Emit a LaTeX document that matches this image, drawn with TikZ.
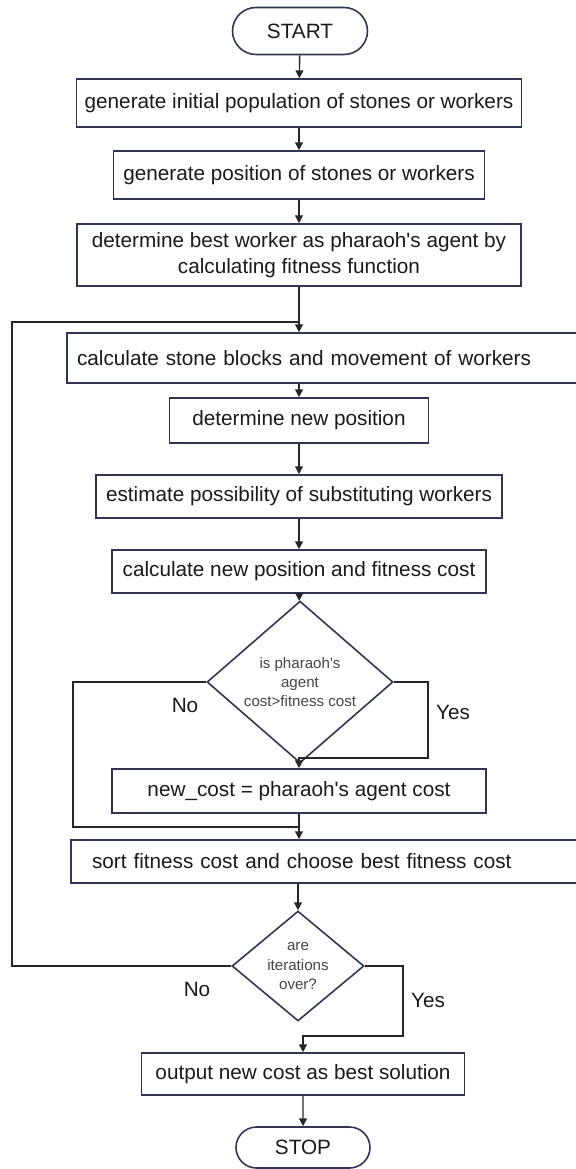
\documentclass[tikz,border=0pt]{standalone}
\usepackage{fontspec}
\setmainfont{Liberation Sans}
\usepackage{tikz}
\usetikzlibrary{arrows.meta, shapes.geometric, shapes.misc}
\usepackage{xcolor}
\definecolor{pharaohLine}{HTML}{2F3552}
\definecolor{pharaohText}{HTML}{1A1A1A}
\definecolor{pharaohSoft}{HTML}{4A4444}

\begin{document}
\begin{tikzpicture}[x=0.02cm, y=-0.02cm, font=\fontsize{11.8}{15}\selectfont, text=pharaohText,
    caja/.style={draw=pharaohLine, line width=0.9pt, rectangle, inner sep=0pt, align=center},
    terminal/.style={draw=pharaohLine, line width=0.9pt, rounded rectangle, inner sep=0pt},
    decision/.style={draw=pharaohLine, line width=0.9pt, diamond, inner sep=0pt, align=center,
      text=pharaohSoft, font=\fontsize{8.6}{11}\selectfont},
    flecha/.style={line width=0.8pt, draw=black!85, -{Triangle[width=4.5pt, length=4.5pt]}},
    linea/.style={line width=0.8pt, draw=black!85}]
        \useasboundingbox (0,0) rectangle (575,1169);
        % Inicio y pasos iniciales
        \node[terminal, minimum width=2.7cm, minimum height=0.94cm] (start) at (300,31) {START};
        \node[caja, minimum width=8.9cm, minimum height=0.96cm] (gen) at (299,103)
          {generate initial population of stones or workers};
        \node[caja, minimum width=7.42cm, minimum height=0.96cm] (pos) at (299,175)
          {generate position of stones or workers};
        \node[caja, minimum width=8.88cm, minimum height=1.24cm] (best) at (299,255)
          {determine best worker as pharaoh\textquotesingle s agent by\\calculating fitness function};
        % Bucle principal
        \node[caja, text width=9.86cm, inner xsep=0.2cm, align=left, minimum height=1.0cm] (move) at (323.5,358)
          {calculate stone blocks and movement of workers};
        \node[caja, minimum width=5.18cm, minimum height=0.9cm] (newpos) at (299,420.5)
          {determine new position};
        \node[caja, minimum width=8.12cm, minimum height=0.86cm] (subst) at (299,496.5)
          {estimate possibility of substituting workers};
        \node[caja, minimum width=7.48cm, minimum height=0.86cm] (cost) at (299,571.5)
          {calculate new position and fitness cost};
        \node[decision, minimum width=3.72cm, minimum height=2.6cm] (check) at (300,682)
          {is pharaoh\textquotesingle s\\agent\\cost>fitness cost};
        \node[caja, minimum width=7.48cm, minimum height=0.88cm] (assign) at (299,791)
          {new\_cost = pharaoh\textquotesingle s agent cost};
        \node[caja, text width=9.34cm, inner xsep=0.42cm, align=left, minimum height=0.86cm] (sort) at (325.5,861.5)
          {sort fitness cost and choose best fitness cost};
        \node[decision, minimum width=2.64cm, minimum height=2.2cm] (iter) at (298,966)
          {are\\iterations\\over?};
        % Salida
        \node[caja, minimum width=6.46cm, minimum height=0.84cm] (out) at (303,1074)
          {output new cost as best solution};
        \node[terminal, minimum width=2.68cm, minimum height=0.82cm] (stop) at (303,1147.5) {STOP};
        % Puntos de quiebre
        \coordinate (loopL) at (12,322);
        \coordinate (loopJ) at (299,322);
        \coordinate (noL) at (73,827);
        \coordinate (noJ) at (299,827);
        \coordinate (yesR) at (428,758);
        \coordinate (yesR2) at (403,1036);
        % Flechas
        \draw[flecha] (start) -- (gen);
        \draw[flecha] (gen) -- (pos);
        \draw[flecha] (pos) -- (best);
        \draw[flecha] (best.south) -- (best.south |- move.north);
        \draw[flecha] (newpos.north |- move.south) -- (newpos.north);
        \draw[flecha] (newpos) -- (subst);
        \draw[flecha] (subst) -- (cost);
        \draw[flecha] (cost) -- (check);
        \draw[flecha] (check.east) -| (yesR) -| (assign.north);
        \draw[linea] (check.west) -| (noL) -- (noJ);
        \draw[flecha] (assign.south) -- (assign.south |- sort.north);
        \draw[flecha] (iter.north |- sort.south) -- (iter.north);
        \draw[linea] (iter.west) -| (loopL) -- (loopJ);
        \draw[flecha] (iter.east) -| (yesR2) -| (out.north);
        \draw[flecha] (out) -- (stop);
        % Etiquetas
        \node (no1) at (185,705) {No};
        \node (yes1) at (453,712) {Yes};
        \node (no2) at (197,989) {No};
        \node (yes2) at (428,1000) {Yes};
      \end{tikzpicture}
\end{document}
